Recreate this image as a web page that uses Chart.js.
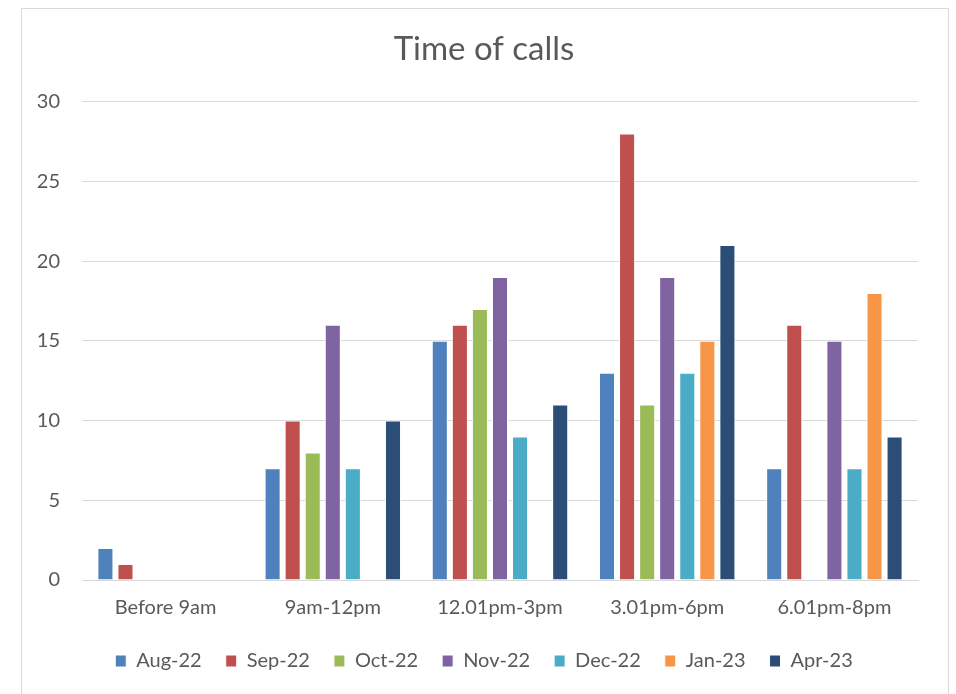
<!DOCTYPE html>
<html lang="en">
<head>
  <meta charset="UTF-8">
  <title>Time of calls</title>
  <script src="https://cdn.jsdelivr.net/npm/chart.js"></script>
  <style>
    body {
      margin: 0;
      background: #ffffff;
      overflow: hidden;
    }
    /* chart frame, runs off the bottom edge like the screenshot */
    .frame {
      position: absolute;
      left: 21px;
      top: 8px;
      width: 926px;
      height: 700px;
      border: 1px solid #d9d9d9;
      background: #ffffff;
    }
    .frame canvas {
      position: absolute;
      left: 0;
      top: 0;
    }
  </style>
</head>
<body>
  <div class="frame">
    <canvas id="callsChart" width="926" height="685"></canvas>
  </div>

  <script>
    const timeSlots = ['Before 9am', '9am-12pm', '12.01pm-3pm', '3.01pm-6pm', '6.01pm-8pm'];
    const months = ['Aug-22', 'Sep-22', 'Oct-22', 'Nov-22', 'Dec-22', 'Jan-23', 'Apr-23'];

    // one array per month, values per time slot (null = no calls shown)
    const aug22 = [2, 7, 15, 13, 7];
    const sep22 = [1, 10, 16, 28, 16];
    const oct22 = [null, 8, 17, 11, null];
    const nov22 = [null, 16, 19, 19, 15];
    const dec22 = [null, 7, 9, 13, 7];
    const jan23 = [null, null, null, 15, 18];
    const apr23 = [null, 10, 11, 21, 9];

    const monthColors = ['#4f81bd', '#c0504d', '#9bbb59', '#8064a2', '#4bacc6', '#f79646', '#2c4d75'];
    const seriesValues = [aug22, sep22, oct22, nov22, dec22, jan23, apr23];

    const fontFamily = "Lato, 'Open Sans', sans-serif";
    const textColor = '#595959';
    const gridColor = '#d9d9d9';

    const ctx = document.getElementById('callsChart').getContext('2d');
    new Chart(ctx, {
      type: 'bar',
      data: {
        labels: timeSlots,
        datasets: months.map((m, i) => ({
          label: m,
          data: seriesValues[i],
          backgroundColor: monthColors[i],
          borderColor: '#ffffff',
          borderWidth: 1,
          categoryPercentage: 0.84,
          barPercentage: 0.8
        }))
      },
      options: {
        responsive: false,
        animation: false,
        layout: { padding: { left: 0, right: 2, top: 0, bottom: 13 } },
        plugins: {
          title: {
            display: true,
            text: 'Time of calls',
            color: textColor,
            font: { family: fontFamily, size: 33, weight: 'normal' },
            padding: { top: 21, bottom: 32 }
          },
          legend: {
            position: 'bottom',
            labels: {
              color: textColor,
              font: { family: fontFamily, size: 20 },
              boxWidth: 11,
              boxHeight: 12,
              padding: 24
            }
          },
          tooltip: { enabled: false }
        },
        scales: {
          x: {
            afterFit: scale => { scale.height = 47; },
            grid: { display: false, drawTicks: false },
            border: { color: gridColor, width: 1 },
            ticks: {
              color: textColor,
              font: { family: fontFamily, size: 20 },
              padding: 16
            }
          },
          y: {
            min: 0,
            max: 30,
            afterFit: scale => { scale.width = 60; },
            grid: { color: gridColor, lineWidth: 1, drawTicks: false },
            border: { display: false },
            ticks: {
              stepSize: 5,
              color: textColor,
              font: { family: fontFamily, size: 20 },
              padding: 22
            }
          },
          // empty spacer on the right so the title and legend sit centred like the original
          spacer: {
            type: 'linear',
            position: 'right',
            afterFit: scale => { scale.width = 28; },
            grid: { display: false },
            border: { display: false },
            ticks: { display: false }
          }
        }
      }
    });
  </script>
</body>
</html>
